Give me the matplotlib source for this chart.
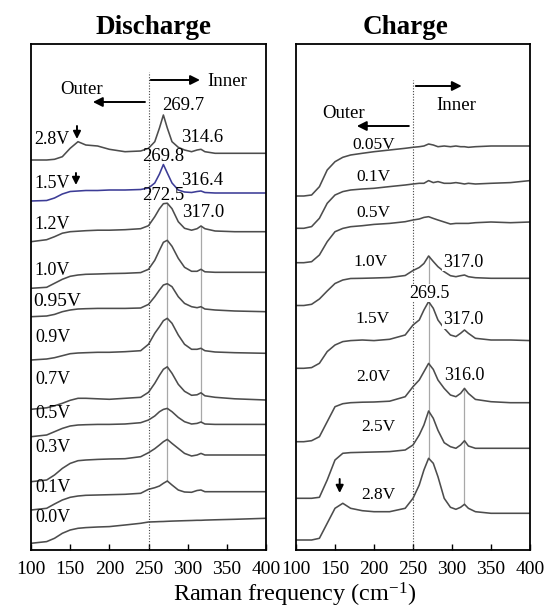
import matplotlib
matplotlib.use("Agg")
import matplotlib.pyplot as plt
import numpy as np

plt.rcParams["font.family"] = ["Liberation Serif", "DejaVu Serif"]
plt.rcParams["mathtext.default"] = "regular"

# ---- data: Raman spectra (arbitrary intensity units) ----
x_dis = [100, 120, 130, 140, 150, 160, 170, 185, 200, 220, 240, 250, 258,
         264, 269, 274, 280, 288, 296, 305, 312, 317, 322, 335, 360, 400]

dis_labels = ["2.8V", "1.5V", "1.2V", "1.0V", "0.95V", "0.9V",
              "0.7V", "0.5V", "0.3V", "0.1V", "0.0V"]
dis_offsets = [390, 349, 308.3, 261.7, 233.3, 190, 140.7, 113.3, 68.3, 40, 6.7]

dis_28 = [0, 0, 0.7, 3.3, 11.7, 18.3, 15, 14, 10.7, 8.3, 9, 11.7, 18.3,
          32, 45, 32, 18.3, 12.7, 10, 8.3, 10, 10.7, 8.3, 6.7, 6.7, 6.7]
dis_15 = [0, 0.5, 3, 7, 9.5, 10, 10.5, 10.5, 11, 11, 11.5, 13, 18,
          27, 36.5, 28, 18, 11, 9, 8.5, 9.5, 10, 8.5, 8, 8, 8]
dis_12 = [0, 2, 5, 8.5, 10, 10.5, 11, 11.5, 11.5, 12, 13, 16, 25,
          33, 38, 38.5, 33, 20, 13.4, 11.5, 13, 15.7, 13, 10.7, 10, 10]
dis_10 = [0, 1, 5, 9, 12, 13.3, 14, 14.3, 14.7, 15, 15.7, 19, 28,
          38, 46, 48, 42, 30, 21, 17, 17, 19, 16.5, 16, 16, 16]
dis_095 = [0, 0.7, 2.3, 5, 6.7, 7.7, 8, 8.3, 8.3, 8.3, 8.7, 12.3, 20,
           26.7, 31.7, 33, 30, 20, 13.3, 10, 9, 10, 7.7, 6.7, 5.7, 5]
dis_09 = [0, 1, 2.3, 4.3, 6.3, 7, 7.3, 7.7, 7.7, 8.3, 9.3, 15.7, 26.7,
          33.3, 39.3, 41.7, 36.7, 25, 15.7, 10.7, 10.7, 11.7, 9.3, 8, 7.3, 6.7]
dis_07 = [0, 1.5, 3.5, 6, 9, 11, 11, 10.5, 10, 11, 12, 17, 26,
          34, 40, 42.5, 36, 25, 18, 14, 14.5, 16.5, 13.5, 12, 10.5, 9.3]
dis_05 = [0, 1.7, 5, 8.3, 10.7, 11.7, 12, 12.3, 12.3, 12.7, 14, 16.7, 20.7,
          25, 27.3, 28.3, 25, 19.3, 15, 12.7, 13.3, 14.7, 12.7, 12.3, 12.3, 12.3]
dis_03 = [0, 1.7, 6.7, 13.3, 18.3, 21, 21.7, 22.3, 22.7, 23, 25, 29, 33,
          36.7, 40, 42.3, 38.3, 33.3, 28.3, 25.7, 26.7, 28.3, 26.7, 26.7, 26.7, 26.7]
dis_01 = [0, 1.7, 6, 10, 12.7, 14, 14.7, 15, 15.3, 15.7, 16.7, 20.7, 22.3,
          24, 26.7, 29, 25, 20, 18, 17.7, 19.5, 20, 18.3, 18.3, 18.3, 18.3]
dis_00 = [0, 1.7, 5, 10, 13.3, 15, 15.7, 16.3, 16.7, 18.3, 20, 21.3, 21.5,
          21.7, 21.8, 22, 22.2, 22.4, 22.6, 22.8, 23, 23, 23.2, 23.5, 24, 25]
dis_values = [dis_28, dis_15, dis_12, dis_10, dis_095, dis_09,
              dis_07, dis_05, dis_03, dis_01, dis_00]

x_chg = [100, 110, 120, 130, 140, 150, 160, 170, 185, 200, 220, 240, 250, 258,
         264, 270, 276, 282, 290, 298, 305, 311, 316, 321, 330, 350, 375, 400]

chg_labels = ["0.05V", "0.1V", "0.5V", "1.0V", "1.5V", "2.0V", "2.5V", "2.8V"]
chg_offsets = [354, 321.7, 287.3, 244.5, 181.7, 108.3, 51.7, 10]

chg_005 = [0, 0, 1, 9.3, 26, 34.3, 38.7, 41, 42.7, 44.3, 46, 47.7, 48.7, 49.3,
           50, 52, 51, 49.3, 50, 49.3, 50, 49.3, 49.3, 48.7, 49.3, 50, 50, 50]
chg_01 = [0, 0, 1.7, 10, 25, 33.3, 36.7, 38.3, 39.3, 40, 41.7, 43.3, 44.3, 45,
          45, 47.7, 45.7, 46.7, 45, 45, 45.7, 45, 44.3, 45, 44.3, 45, 45.7, 47.7]
chg_05 = [0, 0, 1, 7.7, 21, 31, 34.3, 36, 37, 38.3, 39.3, 41, 42.7, 43.7,
          45.3, 46, 44.3, 42.7, 40.7, 38.7, 39.3, 39.3, 39.3, 39.3, 40, 40.7, 40, 40.7]
chg_10 = [0, 0, 1.2, 6.5, 14.5, 22, 25.5, 27, 27.2, 27.5, 28, 30, 35, 38,
          42, 49.5, 44, 38.8, 33.8, 29.8, 28.8, 29.8, 30.5, 28.8, 27.8, 27.2, 27.2, 27.2]
chg_15 = [0, 0, 0.7, 5, 16.7, 23.3, 26.7, 27.7, 28.3, 27.7, 29, 33.3, 43.3, 48.3,
          58.3, 66.7, 60, 48.3, 40, 33.3, 31.7, 35, 38.3, 35, 30, 28.3, 28.3, 27.7]
chg_20 = [0, 0, 1, 5, 20, 35, 38, 39, 39.5, 39.7, 40.5, 45, 55, 61.7,
          70, 78.3, 72.3, 61.7, 53.3, 46.7, 45, 48.3, 53.3, 48.3, 42.3, 40, 39, 39]
chg_25 = [0, 0, 0, 1, 18.3, 38.3, 45, 45.7, 46, 46.3, 46.7, 48.3, 53.3, 63.3,
          73.3, 87.3, 80, 68, 55.6, 51.6, 50, 53.3, 57.6, 52.3, 50, 50, 50, 50]
chg_28 = [0, 0, 0, 1.7, 16.7, 31.7, 36.7, 31.7, 29.3, 28.3, 28.3, 31.7, 41.7, 55,
          70, 81.7, 76.7, 63.3, 41.7, 32.7, 30.7, 32.7, 35.7, 31.7, 28.3, 26.7, 26.7, 26.7]
chg_values = [chg_005, chg_01, chg_05, chg_10, chg_15, chg_20, chg_25, chg_28]

# peak frequencies written on the panels
dis_peaks = [269.7, 314.6, 269.8, 316.4, 272.5, 317.0]
chg_peaks = [317.0, 269.5, 317.0, 316.0]
boundary = 250  # outer / inner split

# ---- layout (text positions in data units) ----
dis_label_pos = [(104.5, 411), (104.5, 367), (104.5, 326), (104.5, 280), (103.5, 248),
                 (106, 213), (106, 170), (106, 137), (106, 102),
                 (106, 62), (106, 32)]
chg_label_pos = [(199, 405), (199.5, 373), (199.5, 337), (196, 288),
                 (198, 231), (199.5, 173), (205, 123), (205, 55)]
dis_peak_pos = [(294, 445), (318.3, 413), (268.5, 394), (318.3, 370),
                (268.5, 355), (319.6, 338)]
chg_peak_pos = [(314, 288), (271, 257), (314, 230), (315.5, 175)]

GREY = "#4d4d4d"
BLUE = "#3c3c96"
LIGHT = "#a8a8a8"


def style_axis(ax):
    ax.set_xlim(100, 400)
    ax.set_ylim(0, 506)
    ax.set_xticks(np.arange(100, 401, 50))
    ax.set_yticks([])
    ax.tick_params(axis="x", direction="in", length=4, width=1,
                   labelsize=14, pad=8)
    for spine in ax.spines.values():
        spine.set_linewidth(1.3)
        spine.set_color("black")


def arrow(ax, start, end, scale=14):
    ax.annotate("", xy=end, xytext=start,
                arrowprops=dict(arrowstyle="-|>", color="black", lw=1.4,
                                mutation_scale=scale, shrinkA=0, shrinkB=0))


def peak_height(xs, vals, off, where):
    return off + vals[xs.index(where)]


fig = plt.figure(figsize=(5.44, 6.08), dpi=100)
ax_d = fig.add_axes([31 / 544, 58 / 608, 235 / 544, 506 / 608])
ax_c = fig.add_axes([296 / 544, 58 / 608, 234 / 544, 506 / 608])

# ---- discharge panel ----
style_axis(ax_d)
for label, off, vals in zip(dis_labels, dis_offsets, dis_values):
    color = BLUE if label == "1.5V" else GREY
    ax_d.plot(x_dis, np.array(vals) + off, color=color, lw=1.15)

ax_d.plot([boundary, boundary], [0, 478], color="#444444", lw=0.8,
          linestyle=(0, (1, 1.5)))
# guide lines through the main and the second peak
main_x = x_dis[int(np.argmax(dis_12))]
ax_d.plot([main_x, main_x],
          [peak_height(x_dis, dis_01, dis_offsets[9], main_x),
           peak_height(x_dis, dis_12, dis_offsets[2], main_x)],
          color=LIGHT, lw=0.9, zorder=0)
ax_d.plot([317, 317],
          [peak_height(x_dis, dis_05, dis_offsets[7], 317),
           peak_height(x_dis, dis_12, dis_offsets[2], 317)],
          color=LIGHT, lw=0.9, zorder=0)

for label, (tx, ty) in zip(dis_labels, dis_label_pos):
    size = 14 if label == "0.95V" else 13
    ax_d.text(tx, ty, label, fontsize=size, ha="left", va="center")

for value, (tx, ty) in zip(dis_peaks, dis_peak_pos):
    ax_d.text(tx, ty, f"{value:.1f}", fontsize=13.5, ha="center", va="center")

ax_d.text(165, 460, "Outer", fontsize=13.5, ha="center", va="center")
ax_d.text(350, 469, "Inner", fontsize=13.5, ha="center", va="center")
arrow(ax_d, (245.5, 448), (179, 448))
arrow(ax_d, (252.8, 470), (315.7, 470))
arrow(ax_d, (158.7, 424), (158.7, 411), scale=11)
arrow(ax_d, (157.4, 377), (157.4, 365), scale=11)

# ---- charge panel ----
style_axis(ax_c)
for off, vals in zip(chg_offsets, chg_values):
    ax_c.plot(x_chg, np.array(vals) + off, color=GREY, lw=1.15)

ax_c.plot([boundary, boundary], [0, 470], color="#444444", lw=0.8,
          linestyle=(0, (1, 1.5)))
main_x = x_chg[int(np.argmax(chg_15))]
ax_c.plot([main_x, main_x],
          [peak_height(x_chg, chg_28, chg_offsets[7], main_x),
           peak_height(x_chg, chg_10, chg_offsets[3], main_x)],
          color=LIGHT, lw=0.9, zorder=0)
ax_c.plot([316, 316],
          [peak_height(x_chg, chg_28, chg_offsets[7], 316),
           peak_height(x_chg, chg_20, chg_offsets[5], 316)],
          color=LIGHT, lw=0.9, zorder=0)

for label, (tx, ty) in zip(chg_labels, chg_label_pos):
    ax_c.text(tx, ty, label, fontsize=12.5, ha="center", va="center")

for value, (tx, ty) in zip(chg_peaks, chg_peak_pos):
    ax_c.text(tx, ty, f"{value:.1f}", fontsize=13, ha="center", va="center",
              bbox=dict(facecolor="white", edgecolor="none", pad=0.5))

ax_c.text(161.5, 437, "Outer", fontsize=13.5, ha="center", va="center")
ax_c.text(306, 445, "Inner", fontsize=13.5, ha="center", va="center")
arrow(ax_c, (244.7, 424), (178, 424))
arrow(ax_c, (253.6, 464), (312.5, 464))
arrow(ax_c, (156, 71), (156, 57), scale=11)

# ---- titles and shared axis label ----
fig.text(154 / 544, 1 - 28 / 608, "Discharge", ha="center", va="center",
         fontsize=19.5, fontweight="bold")
fig.text(406 / 544, 1 - 28 / 608, "Charge", ha="center", va="center",
         fontsize=19.5, fontweight="bold")
fig.text(295 / 544, 1 - 595 / 608, "Raman frequency (cm$^{-1}$)",
         ha="center", va="center", fontsize=17.5)

fig.savefig("out.png", dpi=100)
